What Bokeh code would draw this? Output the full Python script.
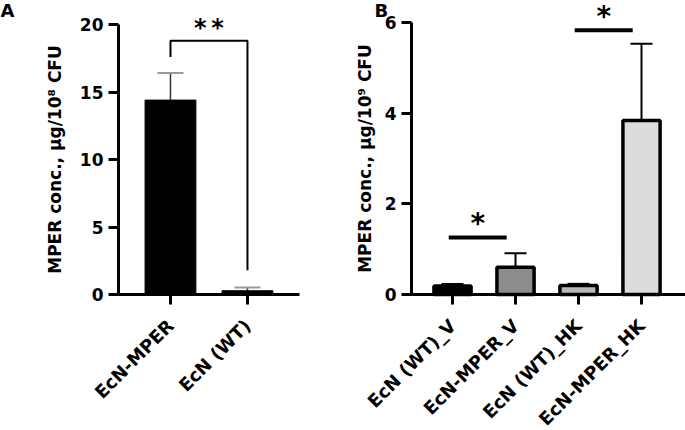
import numpy as np
from bokeh.plotting import figure
from bokeh.layouts import row
from bokeh.models import (Range1d, FixedTicker, Whisker, TeeHead, ColumnDataSource)
from bokeh.core.properties import value
from bokeh.embed import file_html
from bokeh.resources import INLINE

# ---------------- data ----------------
# Panel A
a_categories = ["EcN-MPER", "EcN (WT)"]
a_means = [14.4, 0.28]
a_upper = [16.4, 0.52]
a_colors = ["#000000", "#000000"]
a_ticks = [0, 5, 10, 15, 20]
a_bracket_ends = [17.6, 1.8]
a_bracket_top = 18.8
a_sig_text = "*\u2009*"
a_title = "MPER conc., μg/10⁸ CFU"

# Panel B
b_categories = ["EcN (WT)_V", "EcN-MPER_V", "EcN (WT)_HK", "EcN-MPER_HK"]
b_means = [0.19, 0.60, 0.20, 3.84]
b_upper = [0.23, 0.91, 0.235, 5.53]
b_colors = ["#000000", "#8c8c8c", "#b8b8b8", "#dcdcdc"]
b_ticks = [0, 2, 4, 6]
b_sig_pairs = [(0, 1), (2, 3)]
b_sig_y = [1.26, 5.83]
b_sig_text = ["*", "*"]
b_title = "MPER conc., μg/10⁹ CFU"

FONT = "DejaVu Sans"
H = 430
AXIS_Y = 294          # pixel row of the value axis' zero line


def make_panel(width, left_px, px_per_cat, cat_pad, axis_px, px_per_unit, yticks,
               xcats, title, title_dx, letter, letter_dx):
    # the frame covers the whole canvas; axes are pinned inside it
    n = len(xcats)
    x_lo = -cat_pad
    x_start = x_lo - left_px / px_per_cat
    x_end = x_start + width / px_per_cat
    x_hi = x_lo + axis_px / px_per_cat
    y_end = AXIS_Y / px_per_unit
    y_start = -(H - AXIS_Y) / px_per_unit
    p = figure(width=width, height=H, output_backend="svg", toolbar_location=None,
               x_range=Range1d(x_start, x_end), y_range=Range1d(y_start, y_end),
               min_border=0)
    p.xgrid.visible = False
    p.ygrid.visible = False
    p.outline_line_color = None
    p.background_fill_color = "white"
    p.border_fill_color = "white"
    for ax in (p.xaxis[0], p.yaxis[0]):
        ax.axis_line_width = 3
        ax.axis_line_color = "black"
        ax.major_tick_line_width = 3
        ax.major_tick_line_color = "black"
        ax.major_tick_out = 10
        ax.major_tick_in = 0
        ax.minor_tick_line_color = None
        ax.major_label_text_font = FONT
        ax.major_label_text_font_style = "bold"
        ax.major_label_text_color = "black"
    xa, ya = p.xaxis[0], p.yaxis[0]
    ya.fixed_location = x_lo
    ya.ticker = FixedTicker(ticks=yticks)
    ya.bounds = (yticks[0], yticks[-1])
    ya.major_label_text_font_size = "17px"
    ya.major_label_standoff = 5
    xa.fixed_location = yticks[0]
    xa.ticker = FixedTicker(ticks=list(range(n)))
    xa.bounds = (x_lo - 0.02, min(x_hi, x_end))
    xa.major_label_overrides = {i: c for i, c in enumerate(xcats)}
    xa.major_label_orientation = np.pi / 4
    xa.major_label_text_font_size = "18px"
    xa.major_label_standoff = 18
    # y-axis title
    p.text(x=[x_lo], y=[(yticks[0] + yticks[-1]) / 2], text=[title], angle=np.pi / 2,
           x_offset=title_dx, y_offset=0, text_align="center",
           text_baseline="alphabetic", text_font=value(FONT), text_font_style="bold",
           text_font_size="17px", text_color="black")
    # panel letter
    p.text(x=[x_start], y=[y_end], text=[letter], x_offset=letter_dx, y_offset=-1,
           text_align="left", text_baseline="top", text_font=value(FONT),
           text_font_style="bold", text_font_size="18px", text_color="black")
    return p


# ---------------- panel A ----------------
pA = make_panel(330, 118, 77, 0.675, 181, 13.5, a_ticks, a_categories,
                a_title, -64, "A", 0)
srcA = ColumnDataSource(dict(x=list(range(len(a_categories))), top=a_means,
                             upper=a_upper, color=a_colors))
pA.vbar(x="x", top="top", width=0.66, source=srcA, fill_color="color",
        line_color="black", line_width=1)
pA.add_layout(Whisker(source=srcA, base="x", upper="upper", lower="top",
                      line_color="#333333", line_width=1.5,
                      upper_head=TeeHead(size=26, line_color="#999999", line_width=2),
                      lower_head=None))
pA.line(x=[0, 0, 1, 1],
        y=[a_bracket_ends[0], a_bracket_top, a_bracket_top, a_bracket_ends[1]],
        line_color="black", line_width=2)
pA.text(x=[0.5], y=[a_bracket_top], text=[a_sig_text], text_align="center",
        text_baseline="middle", y_offset=-13, text_font=value(FONT),
        text_font_style="bold", text_font_size="24px", text_color="black")

# ---------------- panel B ----------------
pB = make_panel(355, 81, 63, 0.651, 400, 45.33, b_ticks, b_categories,
                b_title, -47, "B", 44)
srcB = ColumnDataSource(dict(x=list(range(len(b_categories))), top=b_means,
                             upper=b_upper, color=b_colors))
pB.add_layout(Whisker(source=srcB, base="x", upper="upper", lower="top",
                      line_color="black", line_width=2,
                      upper_head=TeeHead(size=22, line_color="black", line_width=2),
                      lower_head=None))
pB.vbar(x="x", top="top", width=0.59, source=srcB, fill_color="color",
        line_color="black", line_width=3.5)
x0s = [i - 0.06 for i, j in b_sig_pairs]
x1s = [j - 0.14 for i, j in b_sig_pairs]
pB.segment(x0=x0s, y0=b_sig_y, x1=x1s, y1=b_sig_y, line_color="black", line_width=4)
pB.text(x=[(a + b) / 2 for a, b in zip(x0s, x1s)], y=b_sig_y, text=b_sig_text,
        text_align="center", text_baseline="top", y_offset=-30,
        text_font=value(FONT), text_font_style="bold", text_font_size="28px",
        text_color="black")

layout = row(pA, pB)
open("out.html", "w").write(file_html(layout, INLINE))
